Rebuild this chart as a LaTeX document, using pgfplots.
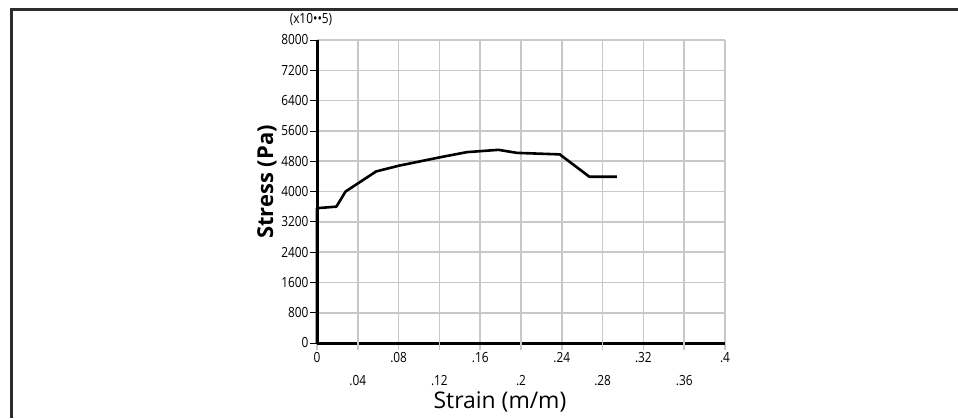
\documentclass[border=0pt]{standalone}
\usepackage{pgfplots}
\pgfplotsset{compat=1.18}
\usepackage{fontspec}
\setmainfont{Open Sans}
\newfontfamily\tickfont[FakeStretch=0.85]{Open Sans}
\definecolor{gridgrey}{RGB}{200,200,200}
\definecolor{framegrey}{RGB}{45,45,45}

\begin{document}
\begin{tikzpicture}[x=1bp,y=1bp]
\path[use as bounding box] (0,0) rectangle (958,418);
% frame (top and left edges only)
\draw[framegrey, line width=2.6bp] (11.5,0) -- (11.5,408.5) -- (958,408.5);

\begin{axis}[
    scale only axis,
    at={(317bp,75bp)}, anchor=south west,
    width=408bp, height=303bp,
    xmin=0, xmax=0.4,
    ymin=0, ymax=8000,
    axis lines*=left,
    axis line style={black, line width=3bp},
    grid=major,
    grid style={gridgrey, line width=1.6bp},
    major grid style={gridgrey, line width=1.6bp},
    xtick={0,0.08,0.16,0.24,0.32,0.4},
    xticklabels={0,.08,.16,.24,.32,.4},
    extra x ticks={0.04,0.12,0.2,0.28,0.36},
    extra x tick labels={.04,.12,.2,.28,.36},
    extra x tick style={
        grid=major,
        major grid style={gridgrey, line width=1.6bp},
        tick label style={yshift=-23bp},
    },
    ytick={0,800,...,8000},
    tick align=outside,
    x tick style={gridgrey, line width=1.6bp},
    y tick style={black, line width=0.8bp},
    major tick length=7bp,
    tick label style={font=\tickfont\fontsize{14}{16}\selectfont, black},
    /pgf/number format/assume math mode=true,
    yticklabel style={xshift=2bp},
    xticklabel style={yshift=1bp},
    scaled y ticks=false,
    yticklabel={\pgfmathprintnumber[fixed,1000 sep={}]{\tick}},
    clip=false,
]
\addplot[black, line width=2.6bp, line join=round] coordinates {
    (0,0) (0,3560) (0.019,3600) (0.028,4000) (0.058,4530)
    (0.08,4680) (0.12,4900) (0.147,5040) (0.178,5100)
    (0.196,5020) (0.238,4980) (0.267,4390) (0.294,4390)
};
\end{axis}

\node[font=\tickfont\fontsize{14}{16}\selectfont] at (311,398) {(x10\textbullet\textbullet5)};
\node[rotate=90, font=\fontsize{22}{24}\selectfont\bfseries] at (267,236) {Stress (Pa)};
\node[font=\fontsize{23}{25}\selectfont] at (500,16) {Strain (m/m)};
\end{tikzpicture}
\end{document}
